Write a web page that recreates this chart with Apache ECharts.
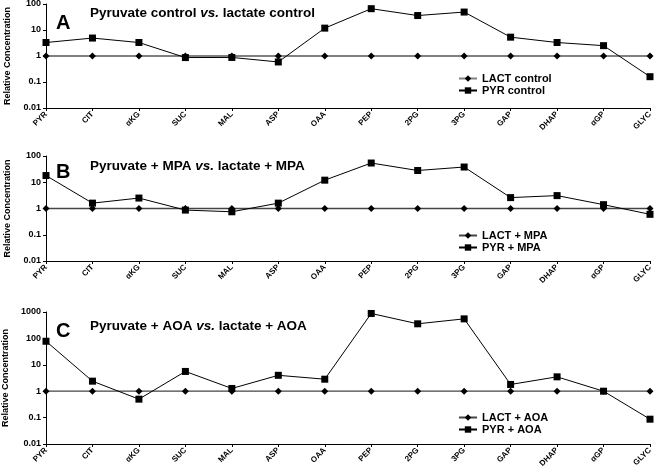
<!DOCTYPE html>
<html>
<head>
<meta charset="utf-8">
<script src="https://cdn.jsdelivr.net/npm/echarts@6/dist/echarts.min.js"></script>
<style>
  html, body { margin: 0; padding: 0; background: #fff; }
  #chart { width: 656px; height: 474px; }
</style>
</head>
<body>
<div id="chart"></div>
<script>
const metabolites = ['PYR', 'CIT', 'αKG', 'SUC', 'MAL', 'ASP', 'OAA', 'PEP', '2PG', '3PG', 'GAP', 'DHAP', 'αGP', 'GLYC']

// lactate is the reference, so all ones
const lactControl = [1, 1, 1, 1, 1, 1, 1, 1, 1, 1, 1, 1, 1, 1]
const pyrControl = [3.3, 4.9, 3.3, 0.87, 0.88, 0.59, 11.8, 66, 36, 49, 5.3, 3.3, 2.5, 0.16]

const lactMpa = [1, 1, 1, 1, 1, 1, 1, 1, 1, 1, 1, 1, 1, 1]
const pyrMpa = [18, 1.6, 2.5, 0.87, 0.75, 1.6, 12, 54, 28, 38, 2.6, 3.1, 1.4, 0.6]

const lactAoa = [1, 1, 1, 1, 1, 1, 1, 1, 1, 1, 1, 1, 1, 1]
const pyrAoa = [78, 2.4, 0.5, 5.6, 1.27, 4.0, 2.85, 880, 357, 550, 1.8, 3.5, 1.0, 0.087]

const FONT = 'Liberation Sans, Arial, sans-serif'

const panels = [
  { top: 4, height: 104, max: 100, letter: 'A', letterTop: 13, titleTop: 6,
    title: ['Pyruvate control ', 'vs.', ' lactate control'],
    legendTop: 68, names: ['LACT control', 'PYR control'],
    lact: lactControl, pyr: pyrControl, lactColor: '#808080', lactWidth: 2 },
  { top: 156, height: 105, max: 100, letter: 'B', letterTop: 162, titleTop: 159,
    title: ['Pyruvate + MPA ', 'vs.', ' lactate + MPA'],
    legendTop: 225, names: ['LACT + MPA', 'PYR + MPA'],
    lact: lactMpa, pyr: pyrMpa, lactColor: '#444', lactWidth: 1.3 },
  { top: 312, height: 132, max: 1000, letter: 'C', letterTop: 321, titleTop: 319,
    title: ['Pyruvate + AOA ', 'vs.', ' lactate + AOA'],
    legendTop: 407, names: ['LACT + AOA', 'PYR + AOA'],
    lact: lactAoa, pyr: pyrAoa, lactColor: '#444', lactWidth: 1.3 }
]

const chart = echarts.init(document.getElementById('chart'))

const grid = [], xAxis = [], yAxis = [], series = [], title = [], legend = []

panels.forEach((p, i) => {
  grid.push({ left: 46, right: 6, top: p.top, height: p.height, containLabel: false, outerBoundsMode: 'none' })
  xAxis.push({
    type: 'category',
    gridIndex: i,
    data: metabolites,
    boundaryGap: false,
    position: 'bottom',
    axisLine: { onZero: false, lineStyle: { color: '#000', width: 1 } },
    axisTick: { show: true, length: 3, lineStyle: { color: '#000' } },
    axisLabel: {
      rotate: 45, fontSize: 8, fontWeight: 'bold', color: '#000',
      fontFamily: FONT, margin: 5, interval: 0
    },
    splitLine: { show: false }
  })
  yAxis.push({
    type: 'log',
    logBase: 10,
    gridIndex: i,
    min: 0.01,
    max: p.max,
    name: 'Relative Concentration',
    nameLocation: 'middle',
    nameRotate: 90,
    nameGap: 34,
    nameTextStyle: { fontSize: 9, fontWeight: 'bold', color: '#000', fontFamily: FONT },
    axisLine: { show: true, lineStyle: { color: '#000', width: 1 } },
    axisTick: { show: true, length: 3, lineStyle: { color: '#000' } },
    axisLabel: {
      fontSize: 9, fontWeight: 'bold', color: '#000', fontFamily: FONT, margin: 5,
      formatter: v => v < 1 ? String(+v.toPrecision(1)) : String(Math.round(v))
    },
    splitLine: { show: false }
  })
  series.push({
    name: p.names[0],
    type: 'line',
    xAxisIndex: i,
    yAxisIndex: i,
    data: p.lact,
    symbol: 'diamond',
    symbolSize: 7,
    lineStyle: { color: p.lactColor, width: p.lactWidth },
    itemStyle: { color: '#000' },
    animation: false
  })
  series.push({
    name: p.names[1],
    type: 'line',
    xAxisIndex: i,
    yAxisIndex: i,
    data: p.pyr,
    symbol: 'rect',
    symbolSize: 7,
    lineStyle: { color: '#000', width: 1 },
    itemStyle: { color: '#000' },
    z: 3,
    animation: false
  })
  title.push({
    text: p.letter,
    left: 56,
    top: p.letterTop,
    padding: 0,
    textStyle: { fontSize: 20, fontWeight: 'bold', color: '#000', fontFamily: FONT }
  })
  title.push({
    text: '{b|' + p.title[0] + '}{i|' + p.title[1] + '}{b|' + p.title[2] + '}',
    left: 90,
    top: p.titleTop,
    padding: 0,
    textStyle: {
      rich: {
        b: { fontSize: 13.5, fontWeight: 'bold', color: '#000', fontFamily: FONT },
        i: { fontSize: 13.5, fontWeight: 'bold', fontStyle: 'italic', color: '#000', fontFamily: FONT }
      }
    }
  })
  legend.push({
    data: p.names,
    orient: 'vertical',
    left: 453,
    top: p.legendTop,
    itemWidth: 18,
    itemHeight: 8,
    itemGap: 1,
    selectedMode: false,
    textStyle: { fontSize: 11, fontWeight: 'bold', color: '#000', fontFamily: FONT }
  })
})

chart.setOption({
  animation: false,
  title: title,
  legend: legend,
  grid: grid,
  xAxis: xAxis,
  yAxis: yAxis,
  series: series
})
</script>
</body>
</html>
